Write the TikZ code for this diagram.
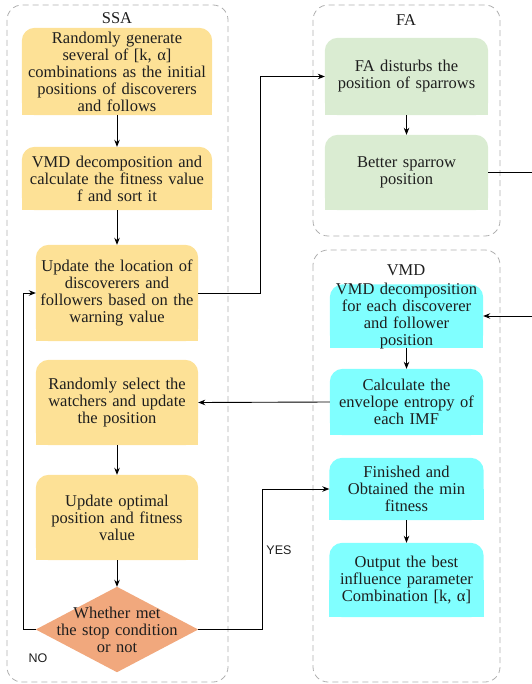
\documentclass[tikz,border=0pt]{standalone}
\usepackage{fontspec}
\setmainfont{Liberation Serif}
\newfontfamily\lsans{Liberation Sans}
\usetikzlibrary{arrows.meta,backgrounds,calc}
\definecolor{ssay}{RGB}{253,225,150}
\definecolor{fag}{RGB}{218,236,210}
\definecolor{vmdc}{RGB}{128,255,255}
\definecolor{dmd}{RGB}{241,168,125}
\definecolor{cont}{RGB}{175,175,175}
\definecolor{txt}{RGB}{30,30,30}
\begin{document}
\begin{tikzpicture}[x=1pt,y=-1pt,
  box/.style={draw=none,inner sep=0pt,align=center,text=txt,font=\fontsize{16.5}{17}\selectfont},
  container/.style={draw=cont,dash pattern=on 6pt off 4pt,rounded corners=15pt,line width=0.8pt},
  title/.style={text=txt,font=\fontsize{16.5}{17}\selectfont},
  arr/.style={draw=black,line width=0.9pt,-{Stealth[length=7pt,width=5.5pt]}},
  lab/.style={text=txt,font=\lsans\fontsize{12.5}{14}\selectfont}]
\useasboundingbox (0,0) rectangle (531,684);
% containers
\draw[container] (7,5) rectangle (228,682);
\draw[container] (313,5) rectangle (500,236);
\draw[container] (313,250) rectangle (500,682);
\node[title] (tssa) at (117,18) {SSA};
\node[title] (tfa) at (406,20) {FA};
\node[title] (tvmd) at (406,270) {VMD};
% SSA boxes
\node[box,minimum width=190pt,minimum height=87pt,text width=190pt] (s1) at (117,71.5)
 {Randomly generate\\several of [k, α]\\combinations as the initial\\positions of discoverers\\and follows};
\node[box,minimum width=190pt,minimum height=63pt,text width=190pt] (s2) at (117,178.5)
 {VMD decomposition and\\calculate the fitness value\\f and sort it};
\node[box,minimum width=162pt,minimum height=96pt,text width=162pt] (s3) at (117,293)
 {Update the location of\\discoverers and\\followers based on the\\warning value};
\node[box,minimum width=162pt,minimum height=85pt,text width=162pt] (s4) at (117,402.5)
 {Randomly select the\\watchers and update\\the position};
\node[box,minimum width=162pt,minimum height=85pt,text width=162pt] (s5) at (117,517.5)
 {Update optimal\\position and fitness\\value};
\node[box,minimum width=162pt,minimum height=85pt,text width=162pt] (d) at (117,629.5)
 {Whether met\\the stop condition\\or not};
% FA boxes
\node[box,minimum width=163pt,minimum height=77pt,text width=163pt] (f1) at (406.5,76.5)
 {FA disturbs the\\position of sparrows};
\node[box,minimum width=163pt,minimum height=75pt,text width=163pt] (f2) at (406.5,172.5)
 {Better sparrow\\position};
% VMD boxes
\node[box,minimum width=153pt,minimum height=65pt,text width=153pt] (v1) at (406.5,316)
 {VMD decomposition\\for each discoverer\\and follower\\position};
\node[box,minimum width=153pt,minimum height=66pt,text width=153pt] (v2) at (406.5,402)
 {Calculate the\\envelope entropy of\\each IMF};
\node[box,minimum width=154pt,minimum height=62pt,text width=154pt] (v3) at (406.5,489)
 {Finished and\\Obtained the min\\fitness};
\node[box,minimum width=154pt,minimum height=74pt,text width=154pt] (v4) at (406.5,580)
 {Output the best\\influence parameter\\Combination [k, α]};
% fills
\begin{scope}[on background layer]
\foreach \n/\c in {s1/ssay,s2/ssay,s3/ssay,s4/ssay,s5/ssay,f1/fag,f2/fag,v2/vmdc,v3/vmdc,v4/vmdc}{
  \fill[\c,rounded corners=13pt] (\n.south west) rectangle (\n.north east);
  \fill[\c] (\n.south west) rectangle (\n.east);
}
\fill[vmdc,rounded corners=13pt] ($(v1.south west)+(0,-1.5)$) rectangle ($(v1.north east)+(0,1.5)$);
\fill[vmdc] ($(v1.south west)+(0,-1.5)$) rectangle (v1.east);
\fill[dmd] (d.north) -- (d.east) -- (d.south) -- (d.west) -- cycle;
\end{scope}
% arrows
\draw[arr] (s1.south) -- (s2.north);
\draw[arr] (s2.south) -- (s3.north);
\draw[arr] (s4.south) -- (s5.north);
\draw[arr] (s5.south) -- (d.north);
\draw[arr] (f1.south) -- (f2.north);
\draw[arr] ($(v1.south)+(0,-1.5)$) -- (v2.north);
\draw[arr] (v3.south) -- (v4.north);
\draw[arr] (s3.east) -- (260,293) |- (f1.west);
\draw[arr] (f2.east) -- (545,172.5) |- (v1.east);
\draw[arr] (v2.west) -- (s4.east);
\draw[arr] (d.west) -- (23,629.5) |- (s3.west);
\draw[arr] (d.east) -- (262,629.5) |- (v3.west);
\node[lab] (no) at (38,658) {NO};
\node[lab] (yes) at (279,550) {YES};
\end{tikzpicture}
\end{document}
